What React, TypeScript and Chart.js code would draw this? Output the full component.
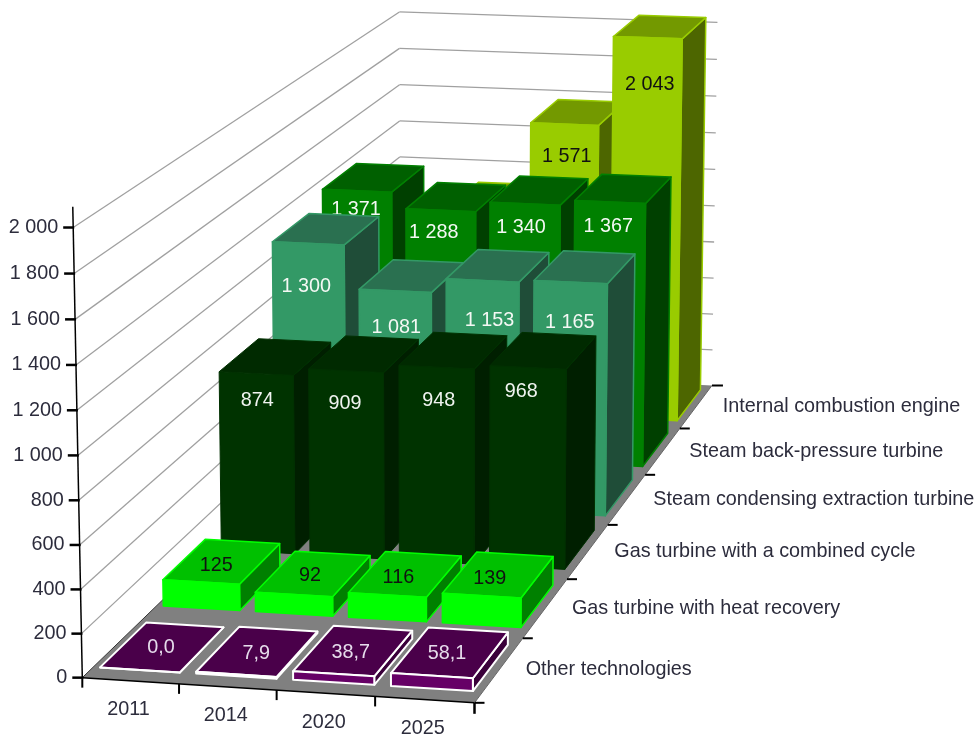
import { useEffect, useRef } from "react";
import { BarController, Chart, registerables } from "chart.js";

Chart.register(...registerables);

const years = ["2011", "2014", "2020", "2025"];
const technologies = [
  "Other technologies",
  "Gas turbine with heat recovery",
  "Gas turbine with a combined cycle",
  "Steam condensing extraction turbine",
  "Steam back-pressure turbine",
  "Internal combustion engine",
];
const otherTechnologies = [0, 7.9, 38.7, 58.1];
const gasHeatRecovery = [125, 92, 116, 139];
const gasCombinedCycle = [874, 909, 948, 968];
const steamCondensing = [1300, 1081, 1153, 1165];
const steamBackPressure = [1371, 1288, 1340, 1367];
const combustionEngine = [700, 1100, 1571, 2043];

const FONT = '19.8px "Liberation Sans", Arial, sans-serif';
const AXIS_TEXT = "#2c2c3c";

// Unit-cube corners (x, depth, height) and where the camera puts them on the canvas.
const cameraAnchors = [
  [0, 0, 0, 82, 676],
  [1, 0, 0, 475, 704],
  [1, 1, 0, 712, 384],
  [0, 1, 0, 400, 372],
  [0, 0, 1, 73, 228],
  [1, 1, 1, 717, 23],
  [0, 1, 1, 400, 11],
];

// Least-squares fit of a 3x4 projective matrix with its last entry fixed at 1.
function fitCamera(anchors: number[][]) {
  const rows: number[][] = [];
  const rhs: number[] = [];
  for (const [X, Y, Z, u, v] of anchors) {
    rows.push([X, Y, Z, 1, 0, 0, 0, 0, -u * X, -u * Y, -u * Z]);
    rhs.push(u);
    rows.push([0, 0, 0, 0, X, Y, Z, 1, -v * X, -v * Y, -v * Z]);
    rhs.push(v);
  }
  const n = 11;
  const A = Array.from({ length: n }, (_, i) => {
    const row = new Array(n + 1).fill(0);
    rows.forEach((r, k) => {
      for (let j = 0; j < n; j++) row[j] += r[i] * r[j];
      row[n] += r[i] * rhs[k];
    });
    return row;
  });
  for (let c = 0; c < n; c++) {
    let best = c;
    for (let r = c + 1; r < n; r++) if (Math.abs(A[r][c]) > Math.abs(A[best][c])) best = r;
    [A[c], A[best]] = [A[best], A[c]];
    for (let r = 0; r < n; r++) {
      if (r === c) continue;
      const f = A[r][c] / A[c][c];
      for (let j = c; j <= n; j++) A[r][j] -= f * A[c][j];
    }
  }
  return A.map((row, i) => row[n] / row[i]);
}

const cam = fitCamera(cameraAnchors);

function project(x: number, d: number, h: number): [number, number] {
  const w = cam[8] * x + cam[9] * d + cam[10] * h + 1;
  return [
    (cam[0] * x + cam[1] * d + cam[2] * h + cam[3]) / w,
    (cam[4] * x + cam[5] * d + cam[6] * h + cam[7]) / w,
  ];
}

// Footprint of a box inside its floor cell, as fractions of the cell.
const CELL_X = { from: 0.07, to: 0.9 };
const CELL_D = { from: 0.165, to: 0.885 };

// Label offsets in pixels, [right, down], from the middle of a box's front top edge.
const labelOffsets = [
  [[21, -22], [20, -21], [17, -21], [15, -22]],
  [[15, -16], [16, -19], [11, -17], [8, -17]],
  [[1, 27], [-1, 33], [2, 33], [-7, 24]],
  [[-2, 43], [1, 37], [7, 40], [-1, 40]],
  [[-1, 19], [-7, 22], [-4, 24], [-2, 25]],
  [[2, 31.5], [2, 31.5], [2, 32], [2, 47]],
];

function decimalOf(scale: any, value: any) {
  return scale.getDecimalForPixel(scale.getPixelForValue(value));
}

function face(ctx: CanvasRenderingContext2D, pts: [number, number][], fill: string, stroke: string, lw: number) {
  ctx.beginPath();
  pts.forEach(([x, y], i) => (i ? ctx.lineTo(x, y) : ctx.moveTo(x, y)));
  ctx.closePath();
  ctx.fillStyle = fill;
  ctx.fill();
  ctx.strokeStyle = stroke;
  ctx.lineWidth = lw;
  ctx.lineJoin = "round";
  ctx.stroke();
}

function formatValue(v: number, decimals: number) {
  if (decimals > 0) return v.toFixed(decimals).replace(".", ",");
  return String(v).replace(/\B(?=(\d{3})+$)/g, " ");
}

// Bar series drawn as perspective boxes; positions still come from the chart's scales.
class Box3DController extends BarController {
  static id = "box3d";
  static defaults = BarController.defaults;
  static overrides = BarController.overrides;

  draw() {
    const chart = this.chart;
    const ctx = chart.ctx;
    const ds: any = this.getDataset();
    const { x: xs, y: ys, depth } = chart.scales as any;
    const row = technologies.indexOf(ds.label);
    const cellD = 1 / technologies.length;
    const cellX = 1 / years.length;
    const dMid = decimalOf(depth, ds.label);
    const d0 = dMid - cellD / 2 + cellD * CELL_D.from;
    const d1 = dMid - cellD / 2 + cellD * CELL_D.to;

    ds.data.forEach((value: number, i: number) => {
      const xMid = decimalOf(xs, i);
      const x0 = xMid - cellX / 2 + cellX * CELL_X.from;
      const x1 = xMid - cellX / 2 + cellX * CELL_X.to;
      const h = decimalOf(ys, value);

      const a = project(x0, d0, 0);
      const b = project(x1, d0, 0);
      const c = project(x1, d1, 0);
      const at = project(x0, d0, h);
      const bt = project(x1, d0, h);
      const ct = project(x1, d1, h);
      const dt = project(x0, d1, h);

      face(ctx, [b, c, ct, bt], ds.sideColor, ds.edgeColor, ds.edgeWidth);
      face(ctx, [at, bt, ct, dt], ds.topColor, ds.edgeColor, ds.edgeWidth);
      face(ctx, [a, b, bt, at], ds.backgroundColor, ds.edgeColor, ds.edgeWidth);

      ctx.font = FONT;
      ctx.textAlign = "center";
      ctx.textBaseline = "middle";
      ctx.fillStyle = ds.labelColor;
      const [dx, dy] = labelOffsets[row][i];
      ctx.fillText(
        formatValue(value, ds.decimals),
        (at[0] + bt[0]) / 2 + dx,
        (at[1] + bt[1]) / 2 + dy
      );
    });
  }
}
Chart.register(Box3DController);

function segment(ctx: CanvasRenderingContext2D, from: [number, number], to: [number, number], color: string, lw: number) {
  ctx.beginPath();
  ctx.moveTo(from[0], from[1]);
  ctx.lineTo(to[0], to[1]);
  ctx.strokeStyle = color;
  ctx.lineWidth = lw;
  ctx.stroke();
}

// Floor, wall grid lines and the three perspective axes.
const perspectiveAxes = {
  id: "perspectiveAxes",
  beforeDatasetsDraw(chart: any) {
    const ctx: CanvasRenderingContext2D = chart.ctx;
    const { x: xs, y: ys, depth } = chart.scales;
    ctx.save();
    ctx.lineCap = "butt";

    for (const tick of ys.ticks) {
      const h = decimalOf(ys, tick.value);
      if (h === 0) continue;
      const corner = project(0, 1, h);
      segment(ctx, project(0, 0, h), corner, "#a0a0a0", 1.3);
      segment(ctx, corner, project(1, 1, h), "#a0a0a0", 1.3);
    }

    ctx.beginPath();
    [project(0, 0, 0), project(1, 0, 0), project(1, 1, 0), project(0, 1, 0)].forEach(([x, y], i) =>
      i ? ctx.lineTo(x, y) : ctx.moveTo(x, y)
    );
    ctx.closePath();
    ctx.fillStyle = "#808080";
    ctx.fill();

    segment(ctx, project(0, 0, 0), project(0, 1, 0), "#333333", 1);
    segment(ctx, project(0, 0, 0), project(1, 0, 0), "#000000", 1.5);
    segment(ctx, project(1, 0, 0), project(1, 1, 0), "#666666", 1);
    segment(ctx, project(0, 0, 0), project(0, 0, decimalOf(ys, 2090)), "#000000", 1.5);

    ctx.font = FONT;
    ctx.fillStyle = AXIS_TEXT;

    // Value axis on the left corner post
    ctx.textAlign = "right";
    ctx.textBaseline = "middle";
    for (const tick of ys.ticks) {
      const p = project(0, 0, decimalOf(ys, tick.value));
      segment(ctx, [p[0] - 10, p[1]], [p[0] + 1, p[1]], "#000000", 2.5);
      ctx.fillText(tick.label, p[0] - 15, p[1]);
    }

    // Year axis along the front edge of the floor
    ctx.textAlign = "center";
    const cellX = 1 / years.length;
    xs.ticks.forEach((tick: any, i: number) => {
      const mid = decimalOf(xs, i);
      const start = project(mid - cellX / 2, 0, 0);
      segment(ctx, start, [start[0], start[1] + 10], "#000000", 2);
      const centre = project(mid, 0, 0);
      ctx.fillText(tick.label, centre[0] - 2, centre[1] + 29);
    });
    const end = project(1, 0, 0);
    segment(ctx, end, [end[0], end[1] + 11], "#000000", 2.5);

    // Technology axis along the right edge of the floor
    ctx.textAlign = "left";
    const cellD = 1 / technologies.length;
    depth.ticks.forEach((tick: any, i: number) => {
      const mid = decimalOf(depth, i);
      const start = project(1, mid - cellD / 2, 0);
      segment(ctx, start, [start[0] + 10, start[1]], "#000000", 2);
      const centre = project(1, mid, 0);
      ctx.fillText(tick.label, centre[0] + 26.5, centre[1]);
    });
    const back = project(1, 1, 0);
    segment(ctx, back, [back[0] + 11, back[1]], "#000000", 2);
    ctx.restore();
  },
};

function series(label: string, data: number[], front: string, top: string, side: string, edge: string, edgeWidth: number, labelColor: string, decimals = 0) {
  return {
    type: "box3d",
    label,
    data,
    backgroundColor: front,
    topColor: top,
    sideColor: side,
    edgeColor: edge,
    edgeWidth,
    labelColor,
    decimals,
    clip: false,
  };
}

export default function App() {
  const ref = useRef<HTMLCanvasElement>(null);

  useEffect(() => {
    const chart = new Chart(ref.current!, {
      type: "bar",
      data: {
        labels: years,
        datasets: [
          series(technologies[0], otherTechnologies, "#660066", "#4a004a", "#3a003a", "#ffffff", 2, "#e6dcec", 1),
          series(technologies[1], gasHeatRecovery, "#00ff00", "#00c000", "#008000", "#00ff00", 1.5, "#111111"),
          series(technologies[2], gasCombinedCycle, "#003300", "#002a00", "#001f00", "#003000", 1, "#f0f4f0"),
          series(technologies[3], steamCondensing, "#339966", "#2a7050", "#1f4d38", "#339966", 1.5, "#f4f8f4"),
          series(technologies[4], steamBackPressure, "#008000", "#006000", "#004000", "#008000", 1.5, "#f4f8f4"),
          series(technologies[5], combustionEngine, "#99cc00", "#739900", "#4d6600", "#99cc00", 1.5, "#111111"),
        ] as any,
      },
      options: {
        animation: false,
        responsive: false,
        events: [],
        layout: { padding: 0 },
        plugins: { legend: { display: false }, tooltip: { enabled: false } },
        scales: {
          x: { type: "category", display: false, offset: true, ticks: { autoSkip: false } },
          y: {
            type: "linear",
            display: false,
            min: 0,
            max: 2000,
            ticks: {
              stepSize: 200,
              callback: (v: any) => String(v).replace(/\B(?=(\d{3})+$)/g, " "),
            },
          },
          depth: {
            type: "category",
            axis: "x",
            position: "bottom",
            display: false,
            offset: true,
            labels: technologies,
            ticks: { autoSkip: false },
          },
        } as any,
      },
      plugins: [perspectiveAxes],
    } as any);
    return () => chart.destroy();
  }, []);

  return (
    <div style={{ position: "absolute", left: 0, top: 0, width: 979, height: 739, background: "#ffffff" }}>
      <canvas ref={ref} width={979} height={739} style={{ display: "block" }} />
    </div>
  );
}
